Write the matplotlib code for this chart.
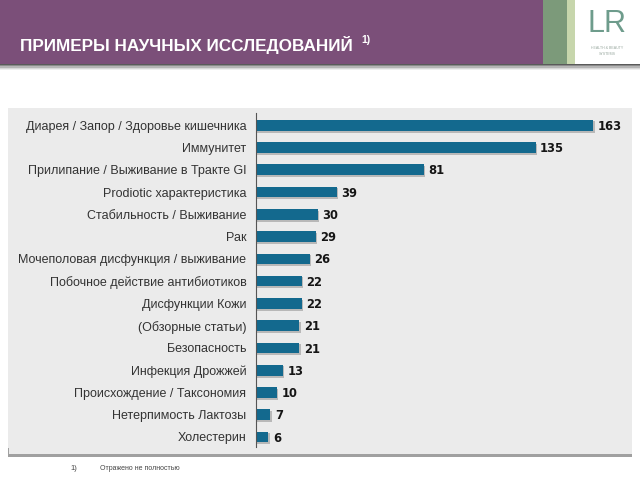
import matplotlib
matplotlib.use("Agg")
import matplotlib.pyplot as plt
from matplotlib.patches import Rectangle

categories = [
    "Диарея / Запор / Здоровье кишечника",
    "Иммунитет",
    "Прилипание / Выживание в Тракте GI",
    "Prodiotic характеристика",
    "Стабильность / Выживание",
    "Рак",
    "Мочеполовая дисфункция / выживание",
    "Побочное действие антибиотиков",
    "Дисфункции Кожи",
    "(Обзорные статьи)",
    "Безопасность",
    "Инфекция Дрожжей",
    "Происхождение / Таксономия",
    "Нетерпимость Лактозы",
    "Холестерин",
]
values = [163, 135, 81, 39, 30, 29, 26, 22, 22, 21, 21, 13, 10, 7, 6]

title = "ПРИМЕРЫ НАУЧНЫХ ИССЛЕДОВАНИЙ"
footnote = "Отражено не полностью"

plt.rcParams['font.family'] = ['Liberation Sans', 'DejaVu Sans']

W, H = 640, 480
fig = plt.figure(figsize=(6.4, 4.8), dpi=100)
fig.patch.set_facecolor("white")

def frect(x0, y0, x1, y1, **kw):
    r = Rectangle((x0 / W, 1 - y1 / H), (x1 - x0) / W, (y1 - y0) / H,
                  transform=fig.transFigure, **kw)
    fig.add_artist(r)
    return r

# header
frect(0, 0, 543, 64, facecolor="#7b4f79", edgecolor="none", zorder=1)
frect(543, 0, 567, 64, facecolor="#7c9a7a", edgecolor="none", zorder=1)
frect(567, 0, 575, 64, facecolor="#c7d6ac", edgecolor="none", zorder=1)
frect(575, 0, 640, 64, facecolor="white", edgecolor="none", zorder=1)
shades = ["#5a5a5a", "#8a8a8a", "#b5b5b5", "#d8d8d8", "#eeeeee"]
for i, c in enumerate(shades):
    frect(0, 64 + i * 1.2, 640, 65.2 + i * 1.2, facecolor=c, edgecolor="none", zorder=1)

fig.text(20 / W, 1 - 45 / H, title, color="white", fontsize=12.3, fontweight="bold",
         va="center", ha="left")
fig.text(361 / W, 1 - 40 / H, "1)", color="white", fontsize=7.5, fontweight="bold",
         va="center", ha="left")
# logo
fig.text(607 / W, 1 - 24 / H, "LR", color="#6e9c8c", fontsize=22, va="center",
         ha="center")
fig.text(607 / W, 1 - 51 / H, "HEALTH & BEAUTY\nSYSTEMS", color="#9aa9a0", fontsize=2.6,
         va="center", ha="center", linespacing=1.4)

# gray panel
frect(8, 108, 632, 455, facecolor="#ebebeb", edgecolor="none", zorder=0)
frect(8, 454, 632, 457, facecolor="#a0a0a0", edgecolor="none", zorder=0)
frect(8, 448, 9, 456, facecolor="#a0a0a0", edgecolor="none", zorder=0)

# axes
ax = fig.add_axes([256 / W, 1 - 447 / H, (632 - 256) / W, (447 - 113) / H])
ax.set_facecolor("none")
n = len(values)
ypos = list(range(n))
ax.barh([y + 0.08 for y in ypos], values, height=0.5, left=0.6, color="#b8b8b8",
        edgecolor="none", zorder=1)
ax.barh(ypos, values, height=0.48, color="#13698e", edgecolor="none", zorder=2)
ax.set_xlim(0, 181.6)
ax.set_ylim(n - 0.55, -0.55)
for y, v in zip(ypos, values):
    ax.text(v + 2.2, y + 0.05, str(v), va="center", ha="left", fontsize=8.3,
            fontweight="bold", color="#151515", family="DejaVu Sans")
ax.set_yticks(ypos)
ax.set_yticklabels(categories, fontsize=9, color="#333333")
ax.tick_params(axis="y", length=0, pad=7)
ax.set_xticks([])
for s in ["top", "right", "bottom"]:
    ax.spines[s].set_visible(False)
ax.spines["left"].set_color("#555555")
ax.spines["left"].set_linewidth(0.8)

# footnote
fig.text(70 / W, 1 - 469 / H, "1)", fontsize=5.5, color="#444444", va="center", ha="left")
fig.text(100 / W, 1 - 469 / H, footnote, fontsize=5, color="#444444", va="center", ha="left")

fig.savefig("out.png", dpi=100)
